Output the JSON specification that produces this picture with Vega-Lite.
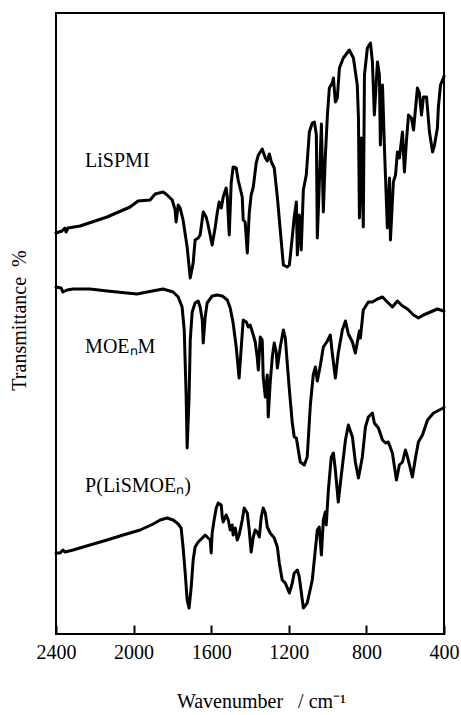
{
  "$schema": "https://vega.github.io/schema/vega-lite/v6.json",
  "width": 388,
  "height": 621,
  "autosize": {"type": "none"},
  "padding": {"left": 56, "top": 13, "right": 17, "bottom": 81},
  "background": "white",
  "config": {"view": {"stroke": "black", "strokeWidth": 2}},
  "datasets": {
    "spectra": [
      {"s":"LiSPMI","w":2400,"t":401},{"s":"LiSPMI","w":2369,"t":403},{"s":"LiSPMI","w":2354,"t":406},{"s":"LiSPMI","w":2348,"t":402},{"s":"LiSPMI","w":2338,"t":406},{"s":"LiSPMI","w":2276,"t":408},{"s":"LiSPMI","w":2137,"t":417},{"s":"LiSPMI","w":2018,"t":427},{"s":"LiSPMI","w":1977,"t":433},{"s":"LiSPMI","w":1915,"t":434},{"s":"LiSPMI","w":1889,"t":440},{"s":"LiSPMI","w":1848,"t":442},{"s":"LiSPMI","w":1827,"t":439},{"s":"LiSPMI","w":1801,"t":434},{"s":"LiSPMI","w":1786,"t":424},{"s":"LiSPMI","w":1781,"t":412},{"s":"LiSPMI","w":1770,"t":429},{"s":"LiSPMI","w":1760,"t":426},{"s":"LiSPMI","w":1745,"t":414},{"s":"LiSPMI","w":1724,"t":387},{"s":"LiSPMI","w":1708,"t":356},{"s":"LiSPMI","w":1693,"t":371},{"s":"LiSPMI","w":1683,"t":394},{"s":"LiSPMI","w":1667,"t":396},{"s":"LiSPMI","w":1657,"t":399},{"s":"LiSPMI","w":1641,"t":422},{"s":"LiSPMI","w":1626,"t":417},{"s":"LiSPMI","w":1616,"t":409},{"s":"LiSPMI","w":1595,"t":389},{"s":"LiSPMI","w":1579,"t":407},{"s":"LiSPMI","w":1569,"t":421},{"s":"LiSPMI","w":1559,"t":432},{"s":"LiSPMI","w":1548,"t":426},{"s":"LiSPMI","w":1538,"t":437},{"s":"LiSPMI","w":1523,"t":446},{"s":"LiSPMI","w":1517,"t":437},{"s":"LiSPMI","w":1507,"t":399},{"s":"LiSPMI","w":1497,"t":451},{"s":"LiSPMI","w":1487,"t":467},{"s":"LiSPMI","w":1471,"t":466},{"s":"LiSPMI","w":1461,"t":454},{"s":"LiSPMI","w":1440,"t":437},{"s":"LiSPMI","w":1435,"t":414},{"s":"LiSPMI","w":1425,"t":412},{"s":"LiSPMI","w":1414,"t":381},{"s":"LiSPMI","w":1404,"t":421},{"s":"LiSPMI","w":1394,"t":439},{"s":"LiSPMI","w":1383,"t":447},{"s":"LiSPMI","w":1368,"t":471},{"s":"LiSPMI","w":1357,"t":479},{"s":"LiSPMI","w":1337,"t":485},{"s":"LiSPMI","w":1321,"t":476},{"s":"LiSPMI","w":1311,"t":473},{"s":"LiSPMI","w":1300,"t":480},{"s":"LiSPMI","w":1290,"t":472},{"s":"LiSPMI","w":1275,"t":466},{"s":"LiSPMI","w":1259,"t":437},{"s":"LiSPMI","w":1244,"t":404},{"s":"LiSPMI","w":1228,"t":369},{"s":"LiSPMI","w":1208,"t":367},{"s":"LiSPMI","w":1197,"t":369},{"s":"LiSPMI","w":1182,"t":397},{"s":"LiSPMI","w":1172,"t":417},{"s":"LiSPMI","w":1161,"t":432},{"s":"LiSPMI","w":1156,"t":379},{"s":"LiSPMI","w":1146,"t":419},{"s":"LiSPMI","w":1136,"t":384},{"s":"LiSPMI","w":1125,"t":444},{"s":"LiSPMI","w":1120,"t":449},{"s":"LiSPMI","w":1110,"t":459},{"s":"LiSPMI","w":1094,"t":502},{"s":"LiSPMI","w":1079,"t":511},{"s":"LiSPMI","w":1068,"t":512},{"s":"LiSPMI","w":1058,"t":499},{"s":"LiSPMI","w":1053,"t":396},{"s":"LiSPMI","w":1043,"t":449},{"s":"LiSPMI","w":1032,"t":510},{"s":"LiSPMI","w":1022,"t":422},{"s":"LiSPMI","w":1012,"t":476},{"s":"LiSPMI","w":1001,"t":519},{"s":"LiSPMI","w":991,"t":546},{"s":"LiSPMI","w":976,"t":551},{"s":"LiSPMI","w":970,"t":556},{"s":"LiSPMI","w":960,"t":532},{"s":"LiSPMI","w":950,"t":536},{"s":"LiSPMI","w":939,"t":566},{"s":"LiSPMI","w":919,"t":576},{"s":"LiSPMI","w":888,"t":584},{"s":"LiSPMI","w":867,"t":576},{"s":"LiSPMI","w":847,"t":549},{"s":"LiSPMI","w":841,"t":516},{"s":"LiSPMI","w":836,"t":416},{"s":"LiSPMI","w":826,"t":496},{"s":"LiSPMI","w":816,"t":407},{"s":"LiSPMI","w":810,"t":559},{"s":"LiSPMI","w":795,"t":586},{"s":"LiSPMI","w":779,"t":591},{"s":"LiSPMI","w":769,"t":572},{"s":"LiSPMI","w":759,"t":519},{"s":"LiSPMI","w":743,"t":572},{"s":"LiSPMI","w":733,"t":559},{"s":"LiSPMI","w":728,"t":489},{"s":"LiSPMI","w":717,"t":549},{"s":"LiSPMI","w":707,"t":486},{"s":"LiSPMI","w":692,"t":406},{"s":"LiSPMI","w":681,"t":456},{"s":"LiSPMI","w":676,"t":394},{"s":"LiSPMI","w":661,"t":452},{"s":"LiSPMI","w":650,"t":459},{"s":"LiSPMI","w":640,"t":482},{"s":"LiSPMI","w":630,"t":476},{"s":"LiSPMI","w":614,"t":502},{"s":"LiSPMI","w":604,"t":462},{"s":"LiSPMI","w":594,"t":492},{"s":"LiSPMI","w":583,"t":519},{"s":"LiSPMI","w":568,"t":516},{"s":"LiSPMI","w":557,"t":504},{"s":"LiSPMI","w":537,"t":546},{"s":"LiSPMI","w":527,"t":541},{"s":"LiSPMI","w":516,"t":519},{"s":"LiSPMI","w":506,"t":537},{"s":"LiSPMI","w":490,"t":537},{"s":"LiSPMI","w":475,"t":502},{"s":"LiSPMI","w":459,"t":482},{"s":"LiSPMI","w":449,"t":489},{"s":"LiSPMI","w":434,"t":506},{"s":"LiSPMI","w":429,"t":527},{"s":"LiSPMI","w":418,"t":549},{"s":"LiSPMI","w":403,"t":556},{"s":"LiSPMI","w":400,"t":558},
      {"s":"MOE","w":2400,"t":347},{"s":"MOE","w":2374,"t":346},{"s":"MOE","w":2364,"t":342},{"s":"MOE","w":2343,"t":344},{"s":"MOE","w":2312,"t":345},{"s":"MOE","w":2225,"t":345},{"s":"MOE","w":2137,"t":343},{"s":"MOE","w":2034,"t":341},{"s":"MOE","w":1982,"t":340},{"s":"MOE","w":1930,"t":342},{"s":"MOE","w":1848,"t":345},{"s":"MOE","w":1796,"t":342},{"s":"MOE","w":1770,"t":337},{"s":"MOE","w":1750,"t":327},{"s":"MOE","w":1739,"t":304},{"s":"MOE","w":1729,"t":237},{"s":"MOE","w":1724,"t":186},{"s":"MOE","w":1714,"t":237},{"s":"MOE","w":1708,"t":294},{"s":"MOE","w":1698,"t":322},{"s":"MOE","w":1683,"t":331},{"s":"MOE","w":1667,"t":333},{"s":"MOE","w":1657,"t":327},{"s":"MOE","w":1646,"t":314},{"s":"MOE","w":1641,"t":291},{"s":"MOE","w":1631,"t":317},{"s":"MOE","w":1621,"t":331},{"s":"MOE","w":1595,"t":338},{"s":"MOE","w":1569,"t":339},{"s":"MOE","w":1543,"t":338},{"s":"MOE","w":1517,"t":334},{"s":"MOE","w":1502,"t":326},{"s":"MOE","w":1487,"t":311},{"s":"MOE","w":1471,"t":287},{"s":"MOE","w":1456,"t":256},{"s":"MOE","w":1445,"t":287},{"s":"MOE","w":1435,"t":314},{"s":"MOE","w":1419,"t":312},{"s":"MOE","w":1409,"t":307},{"s":"MOE","w":1399,"t":309},{"s":"MOE","w":1383,"t":299},{"s":"MOE","w":1373,"t":292},{"s":"MOE","w":1363,"t":277},{"s":"MOE","w":1357,"t":264},{"s":"MOE","w":1347,"t":297},{"s":"MOE","w":1337,"t":294},{"s":"MOE","w":1332,"t":257},{"s":"MOE","w":1321,"t":237},{"s":"MOE","w":1311,"t":259},{"s":"MOE","w":1306,"t":217},{"s":"MOE","w":1296,"t":251},{"s":"MOE","w":1285,"t":277},{"s":"MOE","w":1275,"t":291},{"s":"MOE","w":1265,"t":282},{"s":"MOE","w":1259,"t":266},{"s":"MOE","w":1244,"t":287},{"s":"MOE","w":1228,"t":304},{"s":"MOE","w":1218,"t":296},{"s":"MOE","w":1208,"t":271},{"s":"MOE","w":1197,"t":244},{"s":"MOE","w":1182,"t":211},{"s":"MOE","w":1172,"t":197},{"s":"MOE","w":1161,"t":196},{"s":"MOE","w":1151,"t":184},{"s":"MOE","w":1141,"t":172},{"s":"MOE","w":1120,"t":169},{"s":"MOE","w":1105,"t":177},{"s":"MOE","w":1089,"t":229},{"s":"MOE","w":1074,"t":259},{"s":"MOE","w":1063,"t":267},{"s":"MOE","w":1053,"t":253},{"s":"MOE","w":1037,"t":269},{"s":"MOE","w":1022,"t":287},{"s":"MOE","w":1001,"t":293},{"s":"MOE","w":986,"t":299},{"s":"MOE","w":976,"t":281},{"s":"MOE","w":960,"t":256},{"s":"MOE","w":945,"t":281},{"s":"MOE","w":924,"t":304},{"s":"MOE","w":908,"t":313},{"s":"MOE","w":893,"t":300},{"s":"MOE","w":872,"t":292},{"s":"MOE","w":857,"t":281},{"s":"MOE","w":841,"t":298},{"s":"MOE","w":836,"t":303},{"s":"MOE","w":831,"t":296},{"s":"MOE","w":816,"t":324},{"s":"MOE","w":790,"t":332},{"s":"MOE","w":769,"t":332},{"s":"MOE","w":743,"t":335},{"s":"MOE","w":717,"t":337},{"s":"MOE","w":692,"t":332},{"s":"MOE","w":666,"t":327},{"s":"MOE","w":640,"t":333},{"s":"MOE","w":614,"t":328},{"s":"MOE","w":588,"t":325},{"s":"MOE","w":557,"t":319},{"s":"MOE","w":532,"t":316},{"s":"MOE","w":506,"t":319},{"s":"MOE","w":470,"t":322},{"s":"MOE","w":434,"t":325},{"s":"MOE","w":403,"t":323},{"s":"MOE","w":400,"t":323},
      {"s":"P","w":2400,"t":81},{"s":"P","w":2379,"t":81},{"s":"P","w":2364,"t":84},{"s":"P","w":2354,"t":82},{"s":"P","w":2312,"t":84},{"s":"P","w":2225,"t":89},{"s":"P","w":2137,"t":94},{"s":"P","w":2054,"t":99},{"s":"P","w":1966,"t":104},{"s":"P","w":1899,"t":110},{"s":"P","w":1863,"t":114},{"s":"P","w":1827,"t":116},{"s":"P","w":1796,"t":114},{"s":"P","w":1770,"t":110},{"s":"P","w":1755,"t":106},{"s":"P","w":1745,"t":87},{"s":"P","w":1734,"t":61},{"s":"P","w":1724,"t":34},{"s":"P","w":1714,"t":26},{"s":"P","w":1703,"t":47},{"s":"P","w":1693,"t":74},{"s":"P","w":1683,"t":87},{"s":"P","w":1667,"t":92},{"s":"P","w":1646,"t":96},{"s":"P","w":1631,"t":99},{"s":"P","w":1621,"t":97},{"s":"P","w":1605,"t":94},{"s":"P","w":1600,"t":81},{"s":"P","w":1595,"t":101},{"s":"P","w":1585,"t":114},{"s":"P","w":1574,"t":126},{"s":"P","w":1564,"t":131},{"s":"P","w":1548,"t":129},{"s":"P","w":1543,"t":117},{"s":"P","w":1538,"t":112},{"s":"P","w":1523,"t":119},{"s":"P","w":1512,"t":114},{"s":"P","w":1502,"t":104},{"s":"P","w":1492,"t":109},{"s":"P","w":1487,"t":99},{"s":"P","w":1476,"t":106},{"s":"P","w":1466,"t":94},{"s":"P","w":1456,"t":99},{"s":"P","w":1440,"t":114},{"s":"P","w":1430,"t":126},{"s":"P","w":1414,"t":121},{"s":"P","w":1404,"t":104},{"s":"P","w":1394,"t":82},{"s":"P","w":1383,"t":97},{"s":"P","w":1373,"t":104},{"s":"P","w":1363,"t":102},{"s":"P","w":1352,"t":97},{"s":"P","w":1342,"t":117},{"s":"P","w":1332,"t":126},{"s":"P","w":1321,"t":121},{"s":"P","w":1311,"t":107},{"s":"P","w":1296,"t":101},{"s":"P","w":1275,"t":96},{"s":"P","w":1259,"t":87},{"s":"P","w":1249,"t":71},{"s":"P","w":1234,"t":54},{"s":"P","w":1218,"t":51},{"s":"P","w":1197,"t":41},{"s":"P","w":1182,"t":51},{"s":"P","w":1172,"t":61},{"s":"P","w":1156,"t":64},{"s":"P","w":1146,"t":57},{"s":"P","w":1125,"t":26},{"s":"P","w":1105,"t":31},{"s":"P","w":1079,"t":54},{"s":"P","w":1053,"t":104},{"s":"P","w":1043,"t":107},{"s":"P","w":1032,"t":79},{"s":"P","w":1022,"t":114},{"s":"P","w":1012,"t":122},{"s":"P","w":1007,"t":109},{"s":"P","w":996,"t":144},{"s":"P","w":981,"t":177},{"s":"P","w":970,"t":181},{"s":"P","w":960,"t":164},{"s":"P","w":945,"t":132},{"s":"P","w":934,"t":151},{"s":"P","w":908,"t":194},{"s":"P","w":893,"t":209},{"s":"P","w":872,"t":197},{"s":"P","w":857,"t":172},{"s":"P","w":841,"t":156},{"s":"P","w":821,"t":177},{"s":"P","w":805,"t":207},{"s":"P","w":790,"t":217},{"s":"P","w":769,"t":221},{"s":"P","w":759,"t":211},{"s":"P","w":738,"t":206},{"s":"P","w":717,"t":194},{"s":"P","w":701,"t":191},{"s":"P","w":687,"t":192},{"s":"P","w":666,"t":181},{"s":"P","w":645,"t":154},{"s":"P","w":630,"t":169},{"s":"P","w":614,"t":172},{"s":"P","w":599,"t":184},{"s":"P","w":588,"t":177},{"s":"P","w":563,"t":157},{"s":"P","w":547,"t":176},{"s":"P","w":532,"t":192},{"s":"P","w":511,"t":199},{"s":"P","w":485,"t":214},{"s":"P","w":454,"t":221},{"s":"P","w":434,"t":223},{"s":"P","w":403,"t":226},{"s":"P","w":400,"t":227}
    ],
    "labels": [
      {"label":"LiSPMI","w":2250,"t":467},
      {"label":"MOEₙM","w":2250,"t":281},
      {"label":"P(LiSMOEₙ)","w":2250,"t":142}
    ]
  },
  "layer": [
    {
      "data": {"name": "spectra"},
      "mark": {"type": "line", "color": "black", "strokeWidth": 3, "strokeJoin": "round", "strokeCap": "round"},
      "encoding": {
        "x": {
          "field": "w", "type": "quantitative",
          "scale": {"domain": [2400, 400], "nice": false, "zero": false},
          "axis": {
            "values": [2400, 2000, 1600, 1200, 800, 400],
            "format": "d",
            "tickSize": -9, "tickWidth": 2, "tickColor": "black",
            "domain": false, "grid": false,
            "labelFont": "Liberation Serif", "labelFontSize": 20, "labelColor": "black",
            "labelPadding": 17, "labelFlush": false, "labelOverlap": false,
            "title": "Wavenumber\u00a0\u00a0 / cm⁻¹",
            "titleFont": "Liberation Serif", "titleFontSize": 20, "titleFontWeight": "normal", "titleColor": "black",
            "titleX": 205, "titleY": 73, "titleAlign": "center", "titleBaseline": "alphabetic"
          }
        },
        "y": {
          "field": "t", "type": "quantitative",
          "scale": {"domain": [0, 621], "nice": false, "zero": false},
          "axis": {
            "ticks": false, "labels": false, "domain": false, "grid": false,
            "title": "Transmittance\u00a0 %",
            "titleFont": "Liberation Serif", "titleFontSize": 20, "titleFontWeight": "normal", "titleColor": "black",
            "titleAngle": -90, "titleX": -31, "titleY": 307, "titleAlign": "center", "titleBaseline": "alphabetic"
          }
        },
        "detail": {"field": "s"}
      }
    },
    {
      "data": {"name": "labels"},
      "mark": {"type": "text", "align": "left", "baseline": "alphabetic", "fontSize": 20, "font": "Liberation Serif"},
      "encoding": {
        "x": {"field": "w", "type": "quantitative"},
        "y": {"field": "t", "type": "quantitative"},
        "text": {"field": "label"}
      }
    }
  ]
}
